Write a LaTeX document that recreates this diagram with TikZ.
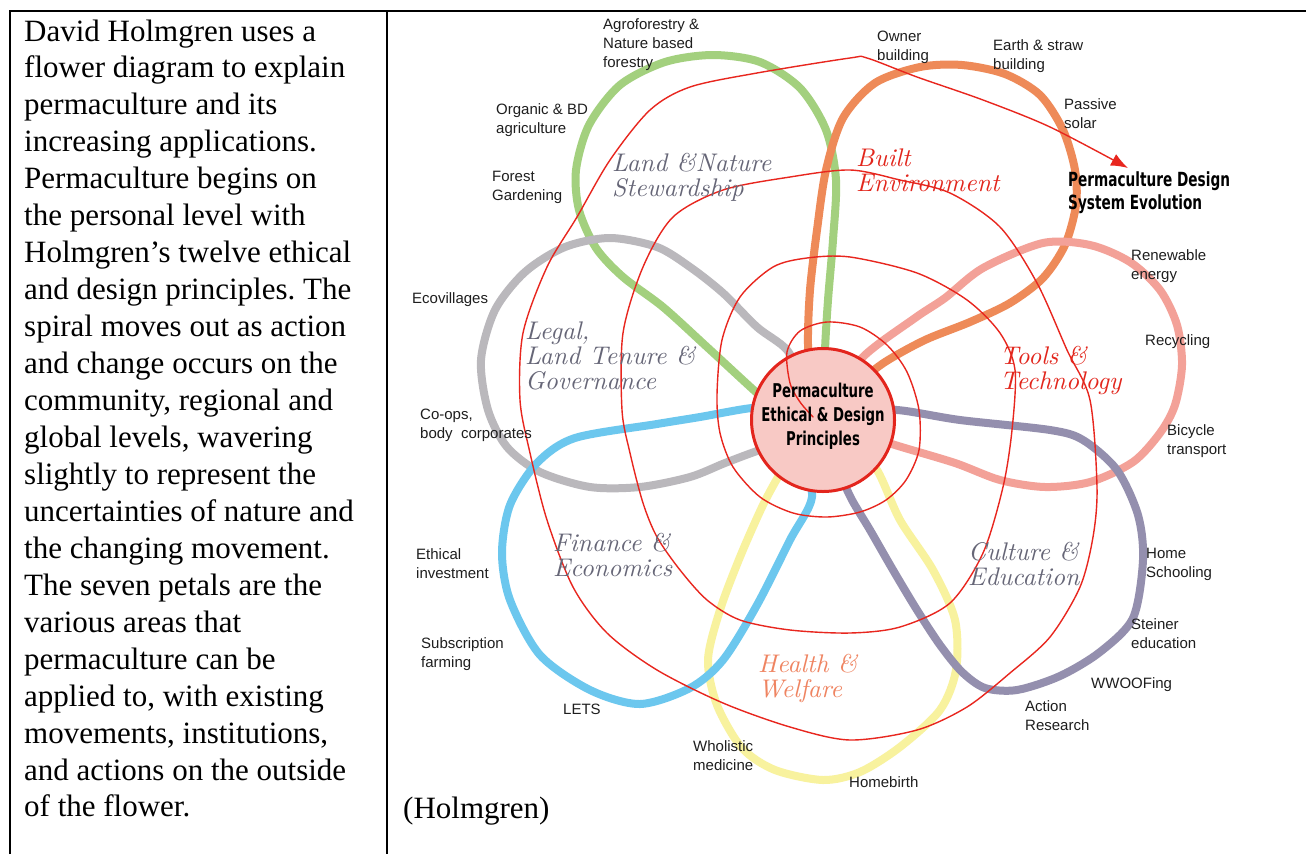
\documentclass[tikz,border=0pt]{standalone}
\usepackage{fontspec}
\setmainfont{Liberation Serif}
\newfontfamily\labfont{Liberation Sans}
\newfontfamily\condfont[FakeStretch=0.7]{DejaVu Sans}
\newfontfamily\handfont{lmroman10-italic.otf}
\usetikzlibrary{arrows.meta}
\definecolor{petalgreen}{HTML}{A3D07E}
\definecolor{petalorange}{HTML}{EE8A58}
\definecolor{petalsalmon}{HTML}{F3A198}
\definecolor{petalpurple}{HTML}{948FAE}
\definecolor{petalyellow}{HTML}{F8F29E}
\definecolor{petalblue}{HTML}{6CC7EE}
\definecolor{petalgrey}{HTML}{BAB8BC}
\definecolor{spiralred}{HTML}{E8261E}
\definecolor{corefill}{HTML}{F8C9C5}
\definecolor{coreline}{HTML}{E3251D}
\definecolor{areagrey}{HTML}{666677}
\definecolor{areared}{HTML}{E2261C}
\definecolor{areasalmon}{HTML}{EF8461}
\definecolor{labtext}{HTML}{1E1E1E}
\frenchspacing
\begin{document}
\begin{tikzpicture}[x=1pt,y=-1pt,
  petal/.style={line width=8pt, line cap=round, line join=round},
  spiralline/.style={draw=spiralred, line width=1.4pt, line cap=round},
  lab/.style={font=\labfont\fontsize{15}{19}\selectfont, text=labtext, anchor=base west, align=left, inner sep=0pt},
  area/.style={font=\handfont\fontsize{25.5}{25}\selectfont, anchor=base west, align=left, inner sep=0pt},
  bodytext/.style={font=\fontsize{31}{37}\selectfont, anchor=base west, inner sep=0pt},
  rule/.style={line width=2pt}]
\useasboundingbox (0,0) rectangle (1306,854);
\fill[white] (0,0) rectangle (1306,854);
% table rules
\draw[rule] (10,854) -- (10,11) -- (1306,11);
\draw[rule] (387,11) -- (387,854);
% body text
\foreach \ln [count=\i from 0] in {{David Holmgren uses a},{flower diagram to explain},{permaculture and its},{increasing applications.},{Permaculture begins on},{the personal level with},{Holmgren’s twelve ethical},{and design principles. The},{spiral moves out as action},{and change occurs on the},{community, regional and},{global levels, wavering},{slightly to represent the},{uncertainties of nature and},{the changing movement.},{The seven petals are the},{various areas that},{permaculture can be},{applied to, with existing},{movements, institutions,},{and actions on the outside},{of the flower.}}
  \node[bodytext, name=body\i] at (24,{41+36.95*\i}) {\ln};
\node[bodytext] (source) at (403,818) {(Holmgren)};
% petals
\draw[petal, petalgreen] plot[smooth] coordinates {(780,412) (757,393) (707,347) (663,307) (623,277) (596,248) (579,210) (576,170) (589,125) (620,85) (665,62) (713,55) (760,62) (800,88) (826,130) (836,180) (833,240) (828,300) (825,350) (824,400)};
\draw[petal, petalgrey] plot[smooth] coordinates {(805,385) (787,350) (757,327) (723,293) (690,267) (657,247) (610,238) (565,247) (525,272) (495,310) (481,360) (488,410) (507,447) (540,472) (590,487) (640,487) (690,477) (725,463) (760,450) (795,440)};
\draw[petal, petalyellow] plot[smooth] coordinates {(850,440) (877,470) (900,520) (933,570) (955,620) (956,670) (940,710) (900,747) (860,772) (823,780) (775,770) (742,748) (717,705) (708,660) (720,610) (740,557) (763,505) (782,470) (800,440)};
\draw[petal, petalorange] plot[smooth] coordinates {(812,400) (808,345) (810,290) (817,230) (826,170) (843,118) (875,83) (920,67) (962,65) (1005,74) (1040,95) (1063,130) (1075,170) (1076,205) (1065,245) (1043,278) (1010,303) (970,322) (925,340) (885,362) (855,385)};
\draw[petal, petalsalmon] plot[smooth] coordinates {(840,400) (862,358) (915,318) (945,298) (983,268) (1043,243) (1090,245) (1130,262) (1160,290) (1177,325) (1182,365) (1175,405) (1160,433) (1133,462) (1090,482) (1045,487) (1000,480) (955,463) (895,445) (850,430)};
\draw[petal, petalpurple] plot[smooth] coordinates {(850,412) (897,410) (960,420) (1050,430) (1083,440) (1117,470) (1138,515) (1143,560) (1133,618) (1100,652) (1060,676) (1017,690) (985,688) (962,672) (940,645) (917,610) (893,570) (870,530) (852,500) (838,470)};
\draw[petal, petalblue] plot[smooth] coordinates {(800,455) (812,497) (790,540) (757,605) (723,660) (690,688) (640,704) (590,690) (540,655) (510,600) (502,553) (510,505) (537,463) (575,438) (657,424) (700,417) (752,408) (790,408)};
% centre
\node[circle, minimum size=143pt, inner sep=0pt, fill=corefill, draw=coreline, line width=3pt] (core) at (823,420) {};
% spiral
\coordinate (evotip) at (1128,168);
\draw[spiralline, -{Latex[length=17pt,width=13pt]}] plot[smooth] coordinates {(813,417) (800,402) (790,383) (787,352) (800,331) (827,322) (860,327) (887,345) (907,372) (919,410) (919,450) (906,480) (886,500) (860,512) (827,517) (793,513) (760,497) (733,467) (720,433) (717,395) (722,340) (740,297) (773,267) (807,258) (850,257) (917,273) (967,300) (1000,333) (1015,370) (1012,430) (1003,487) (983,553) (950,603) (900,627) (850,633) (790,630) (740,620) (707,600) (680,570) (657,537) (643,503) (630,453) (622,410) (623,333) (643,267) (673,217) (723,190) (790,177) (850,170) (900,180) (950,193) (1000,227) (1037,283) (1067,350) (1090,400) (1097,487) (1093,537) (1080,587) (1050,637) (1010,673) (967,707) (917,730) (850,740) (790,727) (723,703) (657,670) (607,633) (573,587) (547,520) (530,453) (520,400) (523,333) (547,267) (577,217) (610,160) (650,110) (690,87) (757,73) (850,58) (867,58) (917,77) (983,100) (1050,127) (evotip)};
\node[font=\condfont\bfseries\fontsize{19}{24}\selectfont, align=center, inner sep=0pt] (coretext) at (823,416) {Permaculture\\Ethical \& Design\\Principles};
\node[font=\condfont\bfseries\fontsize{19.5}{23}\selectfont, anchor=base west, align=left, inner sep=0pt] (evo) at (1068,209) {Permaculture Design\\System Evolution};
% area names (anchor at baseline of last line)
\node[area, text=areagrey] (landnature) at (612,196) {Land \&Nature\\Stewardship};
\node[area, text=areared] (built) at (856,191) {Built\\Environment};
\node[area, text=areagrey] (legal) at (525,389) {Legal,\\Land Tenure \&\\Governance};
\node[area, text=areared] (tools) at (1000,389) {Tools \&\\Technology};
\node[area, text=areagrey] (finance) at (553,576) {Finance \&\\Economics};
\node[area, text=areasalmon] (health) at (758,697) {Health \&\\Welfare};
\node[area, text=areagrey] (culture) at (968,585) {Culture \&\\Education};
% outer labels (anchor at baseline of last line)
\node[lab] (agro) at (603,67) {Agroforestry \&\\Nature based\\forestry};
\node[lab] (organic) at (496,133) {Organic \& BD\\agriculture};
\node[lab] (forest) at (492,200) {Forest\\Gardening};
\node[lab] (eco) at (412,303) {Ecovillages};
\node[lab] (coops) at (420,438) {Co-ops,\\body\ \ corporates};
\node[lab] (ethical) at (416,578) {Ethical\\investment};
\node[lab] (subs) at (421,667) {Subscription\\farming};
\node[lab] (lets) at (563,714) {LETS};
\node[lab] (wholistic) at (693,770) {Wholistic\\medicine};
\node[lab] (homebirth) at (849,787) {Homebirth};
\node[lab] (action) at (1025,730) {Action\\Research};
\node[lab] (wwoof) at (1091,688) {WWOOFing};
\node[lab] (steiner) at (1131,648) {Steiner\\education};
\node[lab] (homeschool) at (1146,577) {Home\\Schooling};
\node[lab] (bicycle) at (1167,454) {Bicycle\\transport};
\node[lab] (recycling) at (1145,345) {Recycling};
\node[lab] (renew) at (1131,279) {Renewable\\energy};
\node[lab] (passive) at (1064,128) {Passive\\solar};
\node[lab] (earth) at (993,69) {Earth \& straw\\building};
\node[lab] (owner) at (877,60) {Owner\\building};
\end{tikzpicture}
\end{document}
